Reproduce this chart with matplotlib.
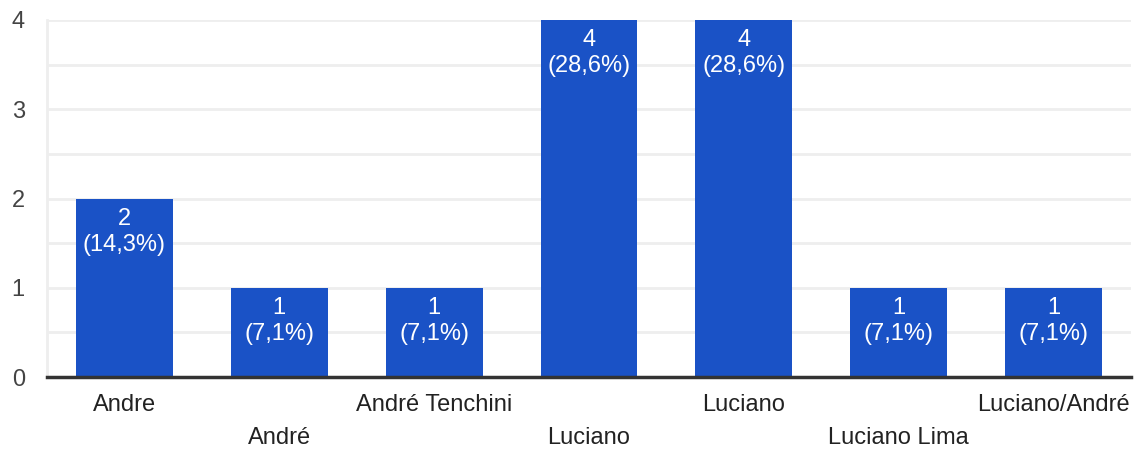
import matplotlib
matplotlib.use('Agg')
from matplotlib import pyplot as plt

names = ['Andre', 'André', 'André Tenchini', 'Luciano', 'Luciano', 'Luciano Lima', 'Luciano/André']
counts = [2, 1, 1, 4, 4, 1, 1]
percents = ['14,3%', '7,1%', '7,1%', '28,6%', '28,6%', '7,1%', '7,1%']
yticks = [0, 1, 2, 3, 4]

plt.rcParams['font.family'] = ['Liberation Sans', 'DejaVu Sans']

fig = plt.figure(figsize=(11.44, 4.5), dpi=100)
ax = fig.add_axes([47 / 1144, 1 - 377 / 450, (1131 - 47) / 1144, (377 - 20) / 450])

x = list(range(len(names)))
ax.bar(x, counts, width=0.625, color='#1a52c6', zorder=3)

for i, (c, p) in enumerate(zip(counts, percents)):
    ax.annotate('%d\n(%s)' % (c, p), xy=(i, c), xytext=(0, -6.5), textcoords='offset points',
                ha='center', va='top', color='white', fontsize=17, linespacing=1.25, zorder=4)

for i, n in enumerate(names):
    off = -20 if i % 2 == 0 else -44
    ax.annotate(n, xy=(i, 0), xycoords=('data', 'axes fraction'), xytext=(0, off),
                textcoords='offset points', ha='center', va='center', color='#222222', fontsize=17,
                annotation_clip=False)

ax.set_xlim(-0.5, 6.5)
ax.set_ylim(0, 4)
ax.set_yticks(yticks)
ax.set_yticks([0.5, 1.5, 2.5, 3.5], minor=True)
ax.set_xticks([])
ax.tick_params(axis='y', which='both', length=0, pad=16, labelsize=17, labelcolor='#444444')
ax.grid(axis='y', which='both', color='#eeeeee', linewidth=2, zorder=0)

for s in ['top', 'right']:
    ax.spines[s].set_visible(False)
ax.spines['left'].set_color('#eeeeee')
ax.spines['left'].set_linewidth(2)
ax.spines['bottom'].set_color('#333333')
ax.spines['bottom'].set_linewidth(2.5)
ax.spines['bottom'].set_zorder(5)

plt.savefig('out.png', dpi=100)
